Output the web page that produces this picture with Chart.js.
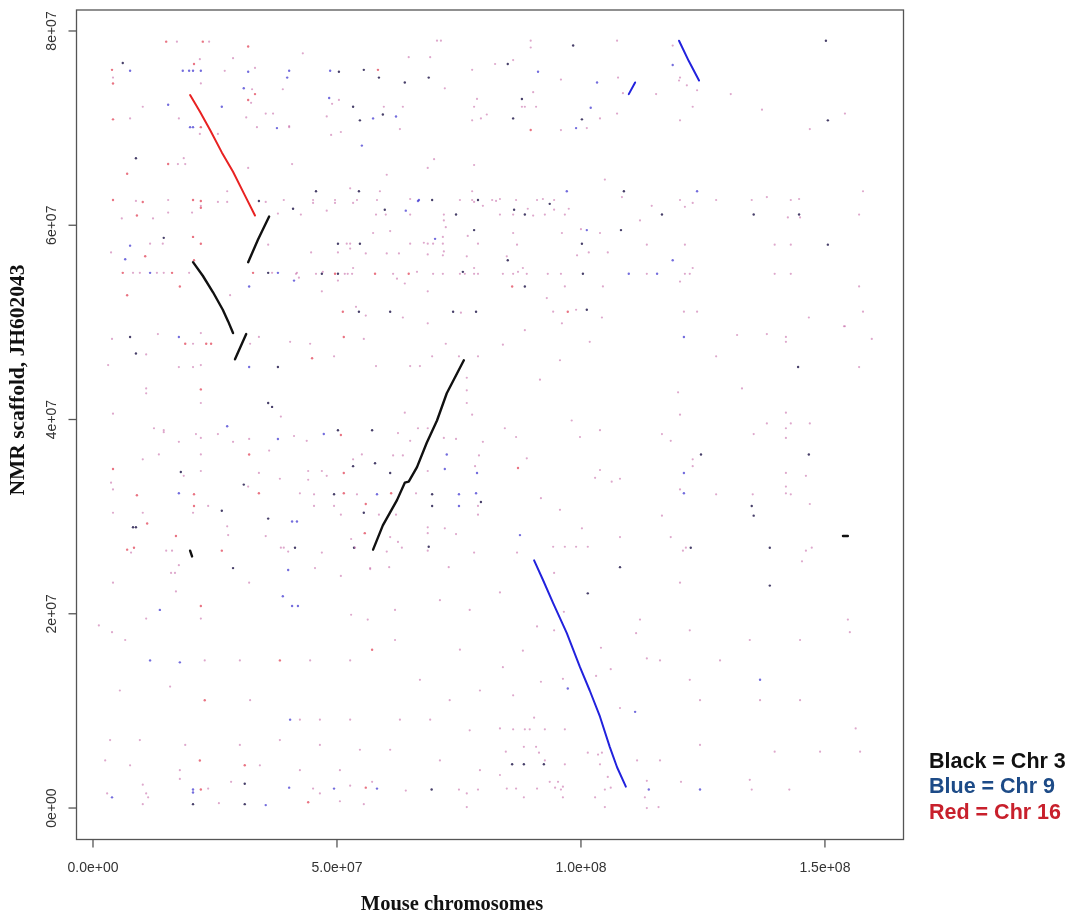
<!DOCTYPE html>
<html>
<head>
<meta charset="utf-8">
<script src="https://cdn.jsdelivr.net/npm/chart.js@4.4.1/dist/chart.umd.min.js"></script>
<style>
  html, body { margin: 0; padding: 0; background: #fff; }
  #wrap { width: 1072px; height: 915px; }
</style>
</head>
<body>
<div id="wrap"><canvas id="dotplot" width="1072" height="915"></canvas></div>
<script>
// all positions in Mb (1e6 bp)
const xTickValues = [0, 50, 100, 150];
const xTickLabels = ['0.0e+00', '5.0e+07', '1.0e+08', '1.5e+08'];
const yTickValues = [0, 20, 40, 60, 80];
const yTickLabels = ['0e+00', '2e+07', '4e+07', '6e+07', '8e+07'];

const legendLines = ['Black = Chr 3', 'Blue = Chr 9', 'Red = Chr 16'];
const legendColors = ['#111111', '#1d4b87', '#c8202c'];

// syntenic runs
const chr3Segments = [
  [[31.8, 56.2], [33.8, 58.5], [36.1, 60.9]],
  [[20.5, 56.2], [22.5, 54.8], [24.6, 53.1], [26.6, 51.3], [27.7, 50.1], [28.7, 48.9]],
  [[29.1, 46.2], [31.4, 48.8]],
  [[57.4, 26.6], [59.4, 29.1], [62.3, 31.7], [63.9, 33.5], [64.7, 33.6], [66.4, 35.1], [68.4, 37.6], [70.5, 39.9], [72.5, 42.7], [76.0, 46.1]],
  [[19.9, 26.5], [20.3, 25.9]],
  [[153.7, 28.0], [154.7, 28.0]]
];
const chr9Segments = [
  [[90.4, 25.5], [92.2, 23.5], [94.3, 21.1], [97.1, 18.0], [99.8, 14.5], [101.8, 12.1], [103.9, 9.4], [105.9, 6.3], [107.4, 4.2], [109.2, 2.2]],
  [[109.8, 73.5], [111.1, 74.7]],
  [[120.1, 79.0], [122.1, 76.9], [124.2, 74.9]]
];
const chr16Segments = [
  [[19.9, 73.4], [21.9, 71.7], [24.0, 69.8], [26.4, 67.5], [28.7, 65.5], [31.1, 63.1], [33.2, 61.0]]
];

// scattered hits
const noiseRed = [
  [15.0,78.9],[22.5,78.9],[31.8,78.4],[3.9,76.0],[20.7,76.6],[4.1,74.6],[33.2,73.5],[31.8,72.9],[4.1,70.9],[22.1,70.1],
  [15.4,66.3],[7.0,65.3],[4.1,62.6],[10.2,62.4],[20.5,62.6],[22.1,62.5],[22.1,61.8],[9.0,61.0],[20.5,58.8],[22.1,58.1],
  [10.7,56.8],[20.7,56.4],[17.8,53.7],[6.1,55.1],[16.2,55.1],[32.8,55.1],[7.0,52.8],[58.4,76.0],[89.7,69.8],[49.6,55.0],
  [57.8,55.0],[64.7,55.0],[85.9,53.7],[51.2,51.1],[97.3,51.1],[18.9,47.8],[23.2,47.8],[24.2,47.8],[51.4,48.5],[44.9,46.3],
  [22.1,43.1],[50.8,38.4],[32.0,36.4],[4.1,34.9],[51.4,34.5],[9.0,32.2],[20.7,32.3],[34.0,32.4],[51.4,32.4],[20.7,31.1],
  [55.9,31.3],[11.1,29.3],[17.0,28.0],[55.7,28.3],[7.0,26.6],[8.4,26.8],[26.4,26.5],[22.1,20.8],[61.1,32.4],[87.1,35.0],
  [22.1,1.9],[44.1,0.6],[55.9,2.1],[22.9,11.1],[38.3,15.2],[21.9,4.9],[31.1,4.4],[57.2,16.3]
];
const noiseBlue = [
  [7.6,75.9],[18.4,75.9],[19.7,75.9],[20.5,75.9],[22.1,75.9],[31.8,75.8],[40.2,75.9],[39.8,75.2],[30.9,74.1],[15.4,72.4],
  [26.4,72.2],[19.9,70.1],[20.5,70.1],[37.7,70.0],[7.6,57.9],[6.6,56.5],[32.0,53.7],[11.7,55.1],[37.9,55.1],[48.6,75.9],
  [91.2,75.8],[103.3,74.7],[48.4,73.1],[102.0,72.1],[57.4,71.0],[62.1,71.2],[99.0,70.0],[55.1,68.2],[97.1,63.5],[66.6,62.5],
  [66.8,62.6],[64.1,61.5],[101.2,59.5],[70.1,58.6],[41.2,54.3],[118.8,76.5],[123.8,63.5],[118.8,56.4],[109.8,55.0],[115.6,55.0],
  [17.6,48.5],[32.0,45.4],[27.5,39.3],[37.9,38.0],[47.3,38.5],[17.6,32.4],[40.8,29.5],[41.8,29.5],[40.0,24.5],[38.9,21.8],
  [40.8,20.8],[42.0,20.8],[13.7,20.4],[121.1,48.5],[121.1,34.5],[121.1,32.4],[97.3,12.3],[111.1,9.9],[72.5,36.4],[72.1,34.9],
  [78.7,34.5],[58.2,32.3],[75.0,32.3],[78.5,32.4],[75.0,31.1],[87.5,28.1],[3.9,1.1],[20.5,1.9],[20.5,1.6],[35.4,0.3],
  [40.2,2.1],[49.4,2.0],[58.2,2.0],[113.9,1.9],[124.4,1.9],[11.7,15.2],[17.8,15.0],[40.4,9.1],[136.7,13.2]
];
const noiseDark = [
  [6.1,76.7],[8.8,66.9],[34.0,62.5],[41.0,61.7],[14.5,58.7],[35.9,55.1],[98.4,78.5],[85.0,76.6],[50.4,75.8],[55.5,76.0],
  [58.6,75.2],[63.9,74.7],[68.8,75.2],[53.3,72.2],[87.9,73.0],[54.7,70.8],[59.4,71.4],[86.1,71.0],[100.2,70.9],[45.7,63.5],
  [54.5,63.5],[69.5,62.6],[78.9,62.6],[93.6,62.2],[59.8,61.6],[74.4,61.1],[86.3,61.6],[88.5,61.1],[78.1,59.5],[50.2,58.1],
  [54.7,58.1],[100.2,58.1],[85.0,56.4],[46.9,55.0],[50.2,55.0],[75.8,55.2],[100.4,55.0],[88.5,53.7],[54.5,51.1],[60.9,51.1],
  [73.8,51.1],[78.5,51.1],[101.2,51.3],[150.2,79.0],[150.6,70.8],[108.8,63.5],[116.6,61.1],[135.4,61.1],[144.7,61.1],[108.2,59.5],
  [150.6,58.0],[7.6,48.5],[8.8,46.8],[37.9,45.4],[35.9,41.7],[36.7,41.3],[50.2,38.9],[57.2,38.9],[18.0,34.6],[53.3,35.2],
  [30.9,33.3],[49.4,32.3],[26.4,30.6],[35.9,29.8],[55.5,30.4],[8.2,28.9],[8.8,28.9],[53.5,26.8],[41.4,26.8],[28.7,24.7],
  [144.5,45.4],[124.6,36.4],[146.7,36.4],[135.0,31.1],[135.4,30.1],[122.5,26.8],[138.7,26.8],[108.0,24.8],[138.7,22.9],[101.4,22.1],
  [85.9,4.5],[88.3,4.5],[92.4,4.5],[57.8,35.5],[60.9,34.5],[69.5,32.3],[79.5,31.5],[69.5,31.1],[68.8,26.9],[20.5,0.4],
  [31.1,2.5],[31.1,0.4],[69.4,1.9]
];
const noiseFaint = [
  [17.2,78.9],[23.8,78.9],[27.0,75.9],[33.2,76.2],[28.7,77.2],[21.9,77.1],[4.1,75.2],[22.1,74.6],[32.6,74.0],[38.9,74.0],
  [10.2,72.2],[32.4,72.6],[7.6,71.0],[17.6,71.0],[31.4,71.1],[35.4,71.5],[36.9,71.5],[33.6,70.1],[40.2,70.1],[21.9,69.4],
  [25.6,69.4],[18.6,66.9],[17.4,66.3],[18.9,66.3],[31.8,65.9],[40.8,66.3],[8.8,62.5],[15.4,62.6],[22.1,62.0],[25.6,62.4],
  [27.5,62.4],[27.5,63.5],[35.4,62.4],[39.1,62.6],[5.9,60.7],[12.3,60.7],[15.4,61.3],[20.3,61.3],[37.9,61.2],[11.7,58.1],
  [14.3,58.1],[35.9,58.0],[3.7,57.2],[8.2,55.1],[9.6,55.1],[13.1,55.1],[14.5,55.1],[19.7,55.1],[36.7,55.1],[41.8,55.1],
  [28.1,52.8],[43.0,77.7],[70.5,79.0],[71.3,79.0],[89.7,79.0],[89.7,78.3],[64.7,77.3],[69.1,77.3],[82.4,76.6],[86.1,77.0],
  [72.1,74.1],[77.7,76.0],[95.9,75.0],[49.0,72.5],[50.4,72.9],[59.6,72.2],[63.5,72.2],[90.2,73.7],[78.7,73.0],[78.1,72.2],
  [87.9,72.2],[88.5,72.2],[90.8,72.2],[47.9,71.2],[77.7,70.8],[79.5,71.0],[80.7,71.4],[40.2,70.2],[62.9,69.9],[48.8,69.3],
  [50.8,69.6],[95.9,69.8],[101.2,70.0],[69.9,66.8],[68.6,65.9],[78.1,66.2],[60.2,65.2],[52.7,63.8],[58.8,63.5],[77.7,63.5],
  [45.1,62.6],[45.1,62.3],[49.6,62.6],[49.6,62.3],[53.3,62.3],[54.1,62.6],[58.2,62.6],[65.0,62.7],[75.2,62.6],[77.7,62.6],
  [78.1,62.4],[79.9,62.0],[81.8,62.6],[82.6,62.5],[83.4,62.7],[86.7,62.6],[91.0,62.6],[92.2,62.7],[94.5,62.6],[42.6,61.1],
  [47.9,61.5],[58.0,61.1],[60.0,61.1],[65.0,61.1],[71.9,61.1],[71.9,60.5],[83.4,61.1],[86.1,61.1],[89.1,61.7],[90.2,61.0],
  [92.6,61.1],[94.5,61.6],[96.7,61.1],[97.5,61.7],[57.4,59.2],[60.9,59.4],[72.3,59.8],[76.8,58.9],[86.1,59.2],[96.1,59.2],
  [100.0,59.6],[71.7,58.8],[52.0,58.1],[52.7,58.1],[65.0,58.1],[67.8,58.2],[68.6,58.1],[69.7,58.1],[71.7,58.1],[78.9,58.1],
  [86.9,58.0],[44.7,57.2],[50.2,57.2],[52.7,57.6],[55.9,57.1],[60.2,57.1],[62.7,57.1],[68.6,57.0],[71.7,56.9],[71.9,57.3],
  [76.6,56.8],[84.8,56.8],[99.2,56.9],[101.6,57.2],[53.3,55.6],[78.1,55.6],[88.1,55.6],[41.6,55.0],[45.7,55.0],[47.1,55.2],
  [51.6,55.0],[52.2,55.0],[53.1,55.0],[61.5,55.0],[66.4,55.2],[69.7,55.0],[71.7,55.0],[75.2,55.0],[76.2,55.0],[78.1,55.0],
  [78.9,55.0],[84.0,55.0],[86.1,55.0],[87.1,55.2],[88.9,55.0],[93.2,55.0],[95.9,55.0],[42.2,54.6],[50.2,54.3],[62.3,54.5],
  [63.9,54.0],[96.7,53.7],[46.9,53.2],[68.6,53.2],[93.0,52.5],[53.9,51.6],[55.9,50.7],[63.5,50.5],[75.4,51.0],[94.3,51.1],
  [99.0,51.3],[68.6,49.9],[96.1,49.9],[107.4,79.0],[118.8,78.5],[120.3,75.2],[120.1,74.9],[121.7,74.4],[123.8,73.9],[107.6,75.2],
  [108.6,73.6],[115.4,73.5],[130.7,73.5],[122.9,72.2],[107.4,71.5],[103.9,71.0],[120.3,70.8],[137.1,71.9],[154.1,71.5],[146.9,69.9],
  [104.9,64.7],[108.4,62.9],[114.5,62.0],[120.3,62.6],[121.3,61.9],[122.9,62.3],[127.7,62.6],[135.0,62.6],[138.1,62.9],[143.0,62.6],
  [144.7,62.7],[157.8,63.5],[112.1,60.5],[142.4,60.8],[144.9,60.8],[157.0,61.1],[103.9,59.2],[105.5,57.2],[113.5,58.0],[121.3,58.0],
  [139.7,58.0],[143.0,58.0],[113.5,55.0],[121.3,55.0],[122.3,55.0],[122.9,55.6],[139.7,55.0],[143.0,55.0],[120.3,54.2],[157.0,53.7],
  [104.5,53.7],[121.1,51.1],[123.8,51.1],[146.7,50.5],[154.1,49.6],[157.8,51.1],[104.3,50.5],[3.9,48.3],[13.3,48.8],[22.1,48.9],
  [20.5,47.8],[34.0,48.5],[32.2,47.8],[40.4,48.0],[44.5,47.8],[55.5,48.3],[10.9,46.7],[49.4,46.5],[3.1,45.6],[17.6,45.4],
  [20.5,45.4],[22.1,45.6],[10.9,43.2],[10.9,42.7],[22.1,41.7],[38.5,40.3],[4.1,40.6],[12.5,39.1],[14.5,38.9],[14.5,38.7],
  [21.1,38.5],[22.1,38.1],[25.6,38.5],[17.6,37.7],[28.7,37.7],[32.0,38.0],[41.2,38.3],[43.8,37.8],[13.5,36.4],[22.1,36.4],
  [36.1,36.8],[10.2,35.9],[18.6,34.2],[22.1,34.7],[34.0,34.5],[38.3,33.9],[44.1,34.7],[46.9,34.7],[47.9,34.2],[44.1,33.8],
  [53.3,35.9],[55.1,36.4],[3.7,33.5],[4.1,32.8],[31.8,33.1],[42.4,32.4],[45.3,32.3],[54.1,32.3],[23.6,31.1],[4.1,30.4],
  [10.2,30.4],[20.5,30.4],[45.3,31.1],[49.4,31.1],[50.8,30.2],[27.5,29.0],[27.7,28.1],[35.4,28.0],[52.9,27.7],[7.8,26.3],
  [15.0,26.5],[16.2,26.5],[38.5,26.8],[39.1,26.8],[40.0,26.4],[46.9,26.3],[45.5,24.7],[16.0,24.2],[16.8,24.2],[17.6,25.0],
  [50.8,23.9],[56.8,24.7],[4.1,23.2],[32.0,23.2],[17.0,22.3],[52.9,19.9],[10.9,19.5],[22.1,19.5],[132.0,48.7],[138.1,48.8],
  [142.0,48.5],[142.0,48.0],[153.9,49.6],[159.6,48.3],[127.7,46.5],[157.0,45.4],[119.9,42.8],[133.0,43.2],[120.3,40.5],[142.0,40.7],
  [138.1,39.6],[143.0,39.6],[146.9,39.6],[142.0,39.1],[116.6,38.5],[118.4,37.8],[135.4,38.5],[142.0,38.1],[122.9,35.9],[122.9,35.2],
  [108.0,33.9],[142.0,34.5],[146.1,34.2],[120.3,32.8],[127.7,32.3],[135.2,32.3],[142.0,33.1],[142.0,32.4],[143.0,32.3],[146.9,31.3],
  [116.6,30.1],[108.0,27.9],[118.4,27.9],[121.5,26.8],[120.9,26.5],[146.1,26.5],[147.3,26.8],[145.3,25.4],[120.3,23.2],[94.3,26.9],
  [96.7,26.9],[99.0,26.9],[101.4,26.9],[86.9,26.3],[94.5,24.2],[83.4,22.2],[91.0,18.7],[96.5,20.2],[94.5,18.3],[111.3,18.0],
  [88.1,16.2],[104.1,16.5],[113.5,15.4],[84.0,14.5],[106.1,14.3],[91.8,13.0],[103.1,13.6],[96.3,13.3],[86.1,11.6],[108.0,10.3],
  [90.4,9.3],[83.4,8.2],[86.1,8.1],[88.5,8.1],[89.5,8.1],[92.6,8.1],[96.7,8.1],[88.3,6.3],[90.8,6.3],[84.6,5.8],
  [91.4,5.7],[101.4,5.7],[103.5,5.5],[104.3,5.7],[111.5,4.9],[96.7,4.5],[103.9,4.5],[92.6,4.9],[83.4,3.4],[105.5,3.2],
  [113.5,2.8],[93.6,2.7],[95.3,2.7],[94.7,2.1],[95.9,1.9],[96.3,2.2],[84.8,2.0],[86.7,2.0],[91.0,2.0],[104.9,1.9],
  [106.1,2.1],[88.3,1.1],[96.3,1.1],[102.9,1.1],[113.1,1.1],[104.9,0.1],[113.5,0.0],[64.1,1.8],[75.0,1.9],[76.6,1.5],
  [78.9,1.9],[120.5,2.7],[135.0,1.9],[142.7,1.9],[76.6,0.1],[115.9,0.1],[2.9,1.5],[10.2,2.4],[10.9,1.5],[11.3,1.1],
  [10.2,0.4],[23.6,2.0],[25.8,0.5],[28.3,2.7],[45.1,2.0],[46.5,1.5],[50.6,0.7],[52.7,2.3],[55.5,0.4],[57.2,2.7],
  [58.0,45.5],[65.0,45.5],[67.0,45.5],[69.5,46.5],[72.3,47.8],[78.9,46.5],[75.0,46.5],[76.6,44.3],[76.6,43.0],[76.6,41.7],
  [63.9,40.7],[77.7,40.5],[66.6,39.1],[68.6,39.1],[62.5,38.6],[65.0,37.8],[71.9,38.1],[74.4,38.0],[79.9,37.7],[61.5,36.3],
  [63.5,36.3],[79.1,36.3],[78.3,35.2],[68.6,34.7],[66.2,32.4],[78.9,31.1],[58.6,30.2],[62.1,30.2],[78.9,30.2],[60.9,27.9],
  [62.5,27.4],[68.6,28.9],[68.6,28.3],[72.1,28.8],[74.4,28.2],[68.6,26.5],[53.7,26.8],[60.2,26.4],[63.3,26.8],[78.1,26.3],
  [56.8,24.6],[60.7,24.8],[72.9,24.8],[84.4,39.1],[86.7,38.2],[88.9,36.0],[91.6,44.1],[95.7,46.1],[98.1,39.9],[99.8,38.2],
  [103.9,38.9],[91.8,31.9],[95.7,30.7],[103.9,34.8],[106.3,33.6],[100.2,28.8],[102.9,34.0],[84.0,47.7],[88.5,49.2],[101.8,48.0],
  [1.2,18.8],[3.9,18.1],[6.6,17.3],[22.9,15.2],[30.1,15.2],[44.5,15.2],[52.7,15.2],[5.5,12.1],[15.8,12.5],[32.2,11.1],
  [42.4,9.1],[46.5,9.1],[52.7,9.1],[3.5,7.0],[9.6,7.0],[18.9,6.5],[30.1,6.5],[38.3,7.0],[46.5,6.5],[54.7,6.0],
  [2.5,4.9],[7.6,4.4],[17.8,3.9],[34.2,4.4],[42.4,3.9],[50.6,3.9],[17.8,3.0],[61.9,20.4],[71.1,21.4],[61.9,17.3],
  [75.2,16.3],[67.0,13.2],[73.1,11.1],[79.3,12.1],[62.9,9.1],[69.1,9.1],[77.2,8.0],[60.9,6.0],[71.1,4.9],[79.3,3.9],
  [56.3,19.4],[77.2,20.4],[112.1,19.4],[122.3,18.3],[134.6,17.3],[144.9,17.3],[155.1,18.1],[116.2,15.2],[128.5,15.2],[124.4,11.1],
  [136.7,11.1],[144.9,11.1],[156.3,8.2],[157.2,5.8],[149.0,5.8],[139.7,5.8],[124.4,6.5],[116.2,4.9],[134.6,2.9],[122.3,13.2],
  [154.7,19.4]
];

function segmentSets(segments, color, width) {
  return segments.map(seg => ({
    type: 'line',
    data: seg,
    borderColor: color,
    borderWidth: width,
    borderCapStyle: 'round',
    borderJoinStyle: 'round',
    pointRadius: 0,
    tension: 0,
    order: 0
  }));
}

function dotSet(points, color, radius) {
  return {
    type: 'scatter',
    data: points,
    backgroundColor: color,
    borderWidth: 0,
    pointRadius: radius,
    order: 1
  };
}

// R-style box, ticks and texts
const rFrame = {
  id: 'rFrame',
  afterDraw(chart) {
    const { ctx, chartArea: a } = chart;
    const x = chart.scales.x;
    const y = chart.scales.y;
    ctx.save();
    ctx.strokeStyle = '#555';
    ctx.lineWidth = 1.3;
    ctx.strokeRect(a.left, a.top, a.right - a.left, a.bottom - a.top);

    ctx.fillStyle = '#333';
    ctx.font = '14px "Liberation Sans", Arial, sans-serif';
    ctx.textAlign = 'center';
    ctx.textBaseline = 'middle';
    xTickValues.forEach((v, i) => {
      const px = x.getPixelForValue(v);
      ctx.beginPath();
      ctx.moveTo(px, a.bottom);
      ctx.lineTo(px, a.bottom + 8);
      ctx.stroke();
      ctx.fillText(xTickLabels[i], px, a.bottom + 29);
    });
    yTickValues.forEach((v, i) => {
      const py = y.getPixelForValue(v);
      ctx.beginPath();
      ctx.moveTo(a.left, py);
      ctx.lineTo(a.left - 8, py);
      ctx.stroke();
      ctx.save();
      ctx.translate(a.left - 24, py);
      ctx.rotate(-Math.PI / 2);
      ctx.fillText(yTickLabels[i], 0, 0);
      ctx.restore();
    });

    ctx.fillStyle = '#111';
    ctx.font = 'bold 20.5px "Liberation Serif", "Times New Roman", serif';
    ctx.fillText('Mouse chromosomes', 452, 905);
    ctx.font = 'bold 21.5px "Liberation Serif", "Times New Roman", serif';
    ctx.save();
    ctx.translate(18, 380);
    ctx.rotate(-Math.PI / 2);
    ctx.fillText('NMR scaffold, JH602043', 0, 0);
    ctx.restore();

    ctx.textAlign = 'left';
    ctx.font = 'bold 21.5px "Liberation Sans", Arial, sans-serif';
    legendLines.forEach((t, i) => {
      ctx.fillStyle = legendColors[i];
      ctx.fillText(t, 929, 762 + i * 25.5);
    });
    ctx.restore();
  }
};

new Chart(document.getElementById('dotplot'), {
  type: 'scatter',
  data: {
    datasets: [
      ...segmentSets(chr3Segments, '#111111', 2.4),
      ...segmentSets(chr9Segments, '#2222dd', 2.0),
      ...segmentSets(chr16Segments, '#e82222', 2.0),
      dotSet(noiseFaint, 'rgba(200,110,170,0.6)', 1.1),
      dotSet(noiseRed, 'rgba(225,70,90,0.75)', 1.2),
      dotSet(noiseBlue, 'rgba(70,60,210,0.75)', 1.2),
      dotSet(noiseDark, 'rgba(40,30,80,0.85)', 1.2)
    ]
  },
  options: {
    responsive: false,
    animation: false,
    devicePixelRatio: 1,
    layout: { padding: { left: 76.5, top: 10, right: 168.5, bottom: 75.5 } },
    scales: {
      x: { type: 'linear', display: false, min: -3.38, max: 166.1 },
      y: { type: 'linear', display: false, min: -3.24, max: 82.16 }
    },
    plugins: {
      legend: { display: false },
      tooltip: { enabled: false }
    }
  },
  plugins: [rFrame]
});
</script>
</body>
</html>
